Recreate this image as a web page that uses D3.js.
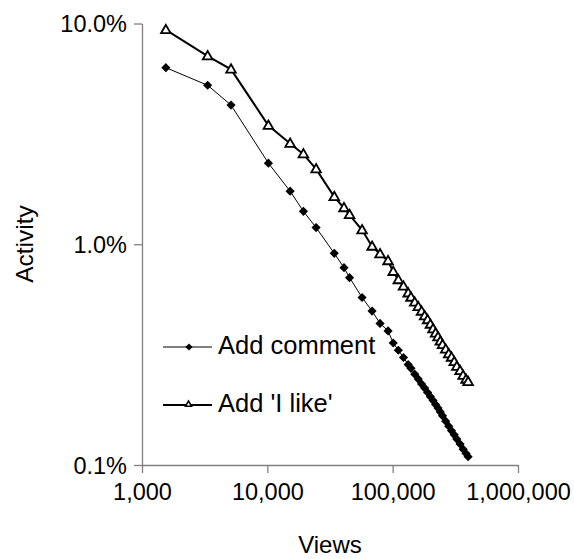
<!DOCTYPE html>
<html>
<head>
<meta charset="utf-8">
<script src="https://cdn.jsdelivr.net/npm/d3@7"></script>
<style>
  html, body { margin: 0; padding: 0; background: #fff; }
  svg { display: block; }
  text { font-family: "Liberation Sans", Arial, sans-serif; fill: #000; }
</style>
</head>
<body>
<svg id="chart" width="574" height="559"></svg>
<script>
// ---- data ----
const views = [1550, 3340, 5130, 10200, 15200, 19400, 24500, 34200, 40900, 45300,
  57000, 68500, 79300, 91900, 101000, 111000, 122000, 133000, 140000, 150000,
  160000, 170000, 180000, 190000, 200000, 210000, 220000, 230000, 240000, 250000,
  265000, 280000, 295000, 310000, 325000, 345000, 365000, 385000, 400000];
// activity in percent
const addComment = [6.31, 5.25, 4.27, 2.33, 1.74, 1.41, 1.19, 0.910, 0.783, 0.706,
  0.574, 0.498, 0.438, 0.405, 0.357, 0.331, 0.307, 0.285, 0.274, 0.258,
  0.245, 0.233, 0.223, 0.213, 0.204, 0.196, 0.188, 0.181, 0.174, 0.167,
  0.158, 0.150, 0.143, 0.137, 0.131, 0.1245, 0.118, 0.1127, 0.109];
const addLike = [9.35, 7.12, 6.20, 3.45, 2.86, 2.56, 2.19, 1.64, 1.46, 1.36,
  1.16, 0.977, 0.903, 0.840, 0.751, 0.689, 0.644, 0.600, 0.574, 0.545,
  0.520, 0.496, 0.473, 0.454, 0.433, 0.413, 0.395, 0.380, 0.363, 0.350,
  0.334, 0.318, 0.307, 0.293, 0.279, 0.267, 0.254, 0.244, 0.238];
const xTicks = [1000, 10000, 100000, 1000000];
const yTicks = [0.1, 1, 10];
const seriesNames = ["Add comment", "Add 'I like'"];
const xTitle = "Views";
const yTitle = "Activity";

// ---- layout ----
const svg = d3.select("#chart");
const x = d3.scaleLog().domain([1000, 1000000]).range([142, 518]);
const y = d3.scaleLog().domain([0.1, 10]).range([465, 23.5]);
const axisColor = "#808080";

// axes
const gx = svg.append("g").attr("transform", "translate(0,465)")
  .call(d3.axisBottom(x).tickValues(xTicks).tickFormat(d3.format(",")).tickSizeInner(8).tickSizeOuter(0).tickPadding(10));
const gy = svg.append("g").attr("transform", "translate(142,0)")
  .call(d3.axisLeft(y).tickValues(yTicks).tickFormat(d => d.toFixed(1) + "%").tickSizeInner(8).tickSizeOuter(0).tickPadding(7));
[gx, gy].forEach(g => {
  g.select(".domain").attr("stroke", axisColor).attr("stroke-width", 1.3);
  g.selectAll(".tick line").attr("stroke", axisColor).attr("stroke-width", 1.3);
  g.selectAll(".tick text").style("font-size", "23.5px").attr("fill", "#000")
    .style("font-family", '"Liberation Sans", Arial, sans-serif');
});
gx.selectAll(".tick text").attr("dy", "0.71em");
gy.selectAll(".tick text").attr("dy", "0.36em");

// axis titles
svg.append("text").attr("x", 330).attr("y", 553).attr("text-anchor", "middle")
  .style("font-size", "24px").text(xTitle);
svg.append("text").attr("transform", "translate(33,244) rotate(-90)").attr("text-anchor", "middle")
  .style("font-size", "24.5px").text(yTitle);

// series
const dataC = views.map((v, i) => ({ v, p: addComment[i] }));
const dataL = views.map((v, i) => ({ v, p: addLike[i] }));
const line = d3.line().x(d => x(d.v)).y(d => y(d.p));

const diamond = d3.symbol().type(d3.symbolSquare).size(42);
const triangle = d3.symbol().type(d3.symbolTriangle).size(40);

svg.append("path").datum(dataC).attr("d", line).attr("fill", "none").attr("stroke", "#000").attr("stroke-width", 1);
svg.append("path").datum(dataL).attr("d", line).attr("fill", "none").attr("stroke", "#000").attr("stroke-width", 2);

svg.append("g").selectAll("path").data(dataC).join("path")
  .attr("d", diamond)
  .attr("transform", d => `translate(${x(d.v)},${y(d.p)}) rotate(45)`)
  .attr("fill", "#000");
svg.append("g").selectAll("path").data(dataL).join("path")
  .attr("d", triangle)
  .attr("transform", d => `translate(${x(d.v)},${y(d.p) + 0.5})`)
  .attr("fill", "#fff").attr("stroke", "#000").attr("stroke-width", 1.8);

// legend
const leg = svg.append("g");
const legRows = [
  { name: seriesNames[0], y: 347, kind: "c" },
  { name: seriesNames[1], y: 405, kind: "l" }
];
legRows.forEach(r => {
  leg.append("line").attr("x1", 163).attr("x2", 212).attr("y1", r.y).attr("y2", r.y)
    .attr("stroke", "#000").attr("stroke-width", r.kind === "c" ? 1 : 2);
  if (r.kind === "c") {
    leg.append("path").attr("d", d3.symbol().type(d3.symbolSquare).size(26)())
      .attr("transform", `translate(189,${r.y}) rotate(45)`).attr("fill", "#000");
  } else {
    leg.append("path").attr("d", d3.symbol().type(d3.symbolTriangle).size(16)())
      .attr("transform", `translate(188.5,${r.y - 0.5})`).attr("fill", "#fff")
      .attr("stroke", "#000").attr("stroke-width", 1.5);
  }
  leg.append("text").attr("x", 218).attr("y", r.y + 6.5).style("font-size", "25.5px").text(r.name);
});
</script>
</body>
</html>
